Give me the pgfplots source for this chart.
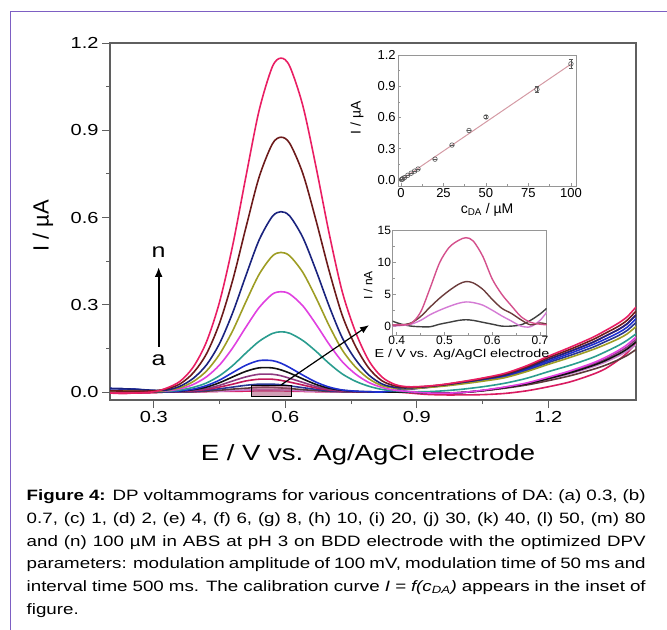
\documentclass[border=0pt]{standalone}
\usepackage{fontspec}
\setmainfont{Liberation Sans}[FakeStretch=1.25]
\newfontfamily\plainsf{Liberation Sans}
\usepackage{pgfplots}
\pgfplotsset{compat=1.18}
\usepackage{pgfplotstable}
\usetikzlibrary{arrows.meta}

\definecolor{framepurple}{RGB}{125,95,195}
\definecolor{axgray}{RGB}{95,95,95}
\definecolor{ingray}{RGB}{150,150,150}
\definecolor{cA}{HTML}{D81B60}
\definecolor{cB}{HTML}{C77DCC}
\definecolor{cC}{HTML}{5D3A3A}
\definecolor{cD}{HTML}{283593}
\definecolor{cE}{HTML}{C2185B}
\definecolor{cF}{HTML}{8E3A80}
\definecolor{cG}{HTML}{111111}
\definecolor{cH}{HTML}{1F2FD0}
\definecolor{cI}{HTML}{2A9D8F}
\definecolor{cJ}{HTML}{E040E0}
\definecolor{cK}{HTML}{9E9D24}
\definecolor{cL}{HTML}{1A237E}
\definecolor{cM}{HTML}{6D1B1B}
\definecolor{cN}{HTML}{E91E63}
\definecolor{zP}{HTML}{D4508C}
\definecolor{zQ}{HTML}{6B3B3B}
\definecolor{zR}{HTML}{D47AD4}
\definecolor{zS}{HTML}{404040}
\definecolor{fitpink}{HTML}{D49AA4}

% DPV curves (a)-(n), current in uA
\pgfplotstableread{
E     a     b     c     d     e     f     g     h     i     j     k     l     m     n
0.20 -.004  .004  .004  .012 -.004  .004  .004  .012  .004  .004  .004  .012  .004 -.004
0.25 -.004  .003  .003  .010 -.004  .003  .003  .010  .003  .003  .003  .010  .003 -.004
0.30 -.002  .001  .001  .004 -.002  .001  .001  .004  .002  .002  .002  .006  .004  .001
0.33  0     0     0     0     0     .001  .001  .001  .002  .004  .006  .007  .011  .014
0.36  0     0     .001  .001  .002  .002  .003  .004  .007  .011  .015  .020  .028  .037
0.39  0     .001  .001  .002  .004  .006  .008  .010  .016  .026  .036  .047  .066  .086
0.42  .001  .002  .003  .006  .009  .012  .017  .022  .031  .052  .072  .093  .131  .172
0.45  .002  .003  .006  .011  .017  .023  .032  .041  .056  .093  .130  .167  .237  .310
0.48  .002  .005  .010  .017  .027  .038  .052  .067  .091  .152  .211  .273  .385  .505
0.51  .003  .007  .013  .023  .038  .052  .071  .092  .134  .223  .310  .400  .565  .740
0.54  .004  .008  .016  .027  .044  .061  .083  .108  .174  .290  .404  .522  .738  .967
0.57  .004  .008  .016  .027  .044  .061  .083  .108  .201  .336  .467  .603  .852  1.117
0.59  .004  .007  .014  .025  .040  .056  .076  .099  .207  .345  .480  .620  .876  1.148
0.61  .003  .006  .012  .021  .034  .047  .065  .084  .202  .337  .468  .605  .855  1.120
0.64  .002  .004  .008  .015  .024  .033  .045  .058  .177  .296  .411  .531  .751  .984
0.67  .001  .002  .005  .009  .014  .019  .026  .034  .140  .233  .324  .418  .590  .774
0.70  .001  .001  .002  .004  .007  .010  .013  .017  .098  .164  .228  .295  .416  .545
0.73  0     .001  .001  .002  .003  .004  .006  .007  .062  .104  .144  .186  .263  .344
0.76  0     0     0     .001  .001  .001  .002  .003  .037  .062  .086  .112  .158  .207
0.79  0     0     0     0     0     0     .001  .001  .020  .033  .046  .059  .083  .109
0.82  0     0     0     0     0     0     0     0     .009  .016  .022  .028  .039  .052
0.85  0     0     0     .004  .005  0     0     .005  .004  .006  .013  .016  .021  .026
0.88 -.003  0     0     .009  .010  0     0     .010  .001  .002  .011  .014  .016  .018
0.92 -.008 -.003 -.003  .015  .017 -.003 -.003  .016  .001 -.003  .015  .018  .019  .020
0.96 -.010 -.004 -.003  .022  .024 -.004 -.004  .023  .004 -.004  .020  .024  .025  .026
1.00 -.010 -.002 -.002  .029  .032 -.002 -.002  .030  .009 -.002  .027  .032  .034  .035
1.05 -.009  .005  .004  .040  .044  .005  .005  .042  .018  .006  .037  .044  .046  .048
1.10 -.005  .014  .013  .052  .058  .016  .015  .055  .030  .017  .049  .058  .061  .064
1.15  .004  .027  .024  .074  .082  .029  .028  .078  .047  .031  .070  .082  .086  .090
1.20  .018  .044  .039  .101  .112  .048  .046  .106  .070  .051  .095  .112  .118  .123
1.25  .035  .063  .056  .126  .140  .069  .066  .133  .092  .073  .119  .140  .147  .154
1.30  .060  .086  .077  .153  .170  .095  .090  .162  .118  .099  .145  .170  .179  .187
1.33  .080  .103  .092  .173  .192  .113  .108  .182  .138  .119  .163  .192  .202  .211
1.36  .110  .124  .111  .194  .215  .137  .130  .204  .160  .143  .183  .215  .226  .237
1.38  .135  .141  .126  .212  .235  .155  .148  .223  .178  .163  .200  .235  .247  .259
1.40  .168  .163  .146  .239  .265  .181  .172  .252  .200  .189  .225  .265  .278  .292
}\dpv

% calibration points: c (uM), I (uA), error
\pgfplotstableread{
c     I      err
0.3   0.004  0
0.7   0.008  0
1     0.012  0
2     0.022  0
4     0.045  0
6     0.065  0
8     0.085  0
10    0.105  0
20    0.200  0
30    0.335  0
40    0.475  0
50    0.605  0.015
80    0.870  0.030
100   1.115  0.040
}\calib

% zoomed low-concentration curves, current in nA
\pgfplotstableread{
E      p     q     r     s
0.390  0.2   0.2   0.0   0.8
0.410  0.2   0.2   0.1   0.3
0.430  0.4   0.5   0.3   0.0
0.450  2.2   1.5   0.9  -0.1
0.470  6.0   3.0   1.8  -0.1
0.490  10.0  4.4   2.5   0.3
0.510  12.4  5.6   3.1   0.6
0.530  13.5  6.6   3.6   0.9
0.545  13.9  7.0   3.8   1.0
0.560  13.4  6.8   3.7   0.9
0.580  11.0  5.8   3.3   0.6
0.600  7.4   4.2   2.5   0.3
0.620  5.0   2.8   1.6   0.0
0.640  3.2   2.0   0.8   0.0
0.660  1.5   1.0   0.0   0.2
0.680  0.6   0.2  -0.1   0.9
0.700  0.3   0.5   0.9   1.9
0.714  0.2   0.3   2.2   2.8
}\lowc

\begin{document}
\begin{tikzpicture}
\useasboundingbox (0,0) rectangle (667bp,-630bp);
\draw[framepurple, line width=1.3bp] (10.7bp,-630bp) -- (10.7bp,-11.7bp) -- (667bp,-11.7bp);

\begin{axis}[
  at={(110bp,-400bp)}, anchor=south west,
  width=526bp, height=357bp, scale only axis,
  xmin=0.2, xmax=1.4, ymin=-0.0275, ymax=1.2,
  xtick={0.3,0.6,0.9,1.2}, ytick={0,0.3,0.6,0.9,1.2},
  minor x tick num=1, minor y tick num=1,
  tick pos=left, tick align=outside,
  major tick length=8bp, minor tick length=4bp,
  axis line style={draw=axgray, line width=1.2bp},
  tick style={draw=axgray, line width=1bp},
  tick label style={font=\fontsize{16bp}{16bp}\selectfont},
  xticklabel style={/pgf/number format/fixed, /pgf/number format/fixed zerofill,
    /pgf/number format/precision=1, /pgf/number format/assume math mode=true},
  yticklabel style={/pgf/number format/fixed, /pgf/number format/fixed zerofill,
    /pgf/number format/precision=1, /pgf/number format/assume math mode=true},
  every axis plot/.append style={line width=1.6bp, smooth},
]
\addplot[cA] table[x=E,y=a]{\dpv};
\addplot[cB] table[x=E,y=b]{\dpv};
\addplot[cC] table[x=E,y=c]{\dpv};
\addplot[cD] table[x=E,y=d]{\dpv};
\addplot[cE] table[x=E,y=e]{\dpv};
\addplot[cF] table[x=E,y=f]{\dpv};
\addplot[cG] table[x=E,y=g]{\dpv};
\addplot[cH] table[x=E,y=h]{\dpv};
\addplot[cI] table[x=E,y=i]{\dpv};
\addplot[cJ] table[x=E,y=j]{\dpv};
\addplot[cK] table[x=E,y=k]{\dpv};
\addplot[cL] table[x=E,y=l]{\dpv};
\addplot[cM] table[x=E,y=m]{\dpv};
\addplot[cN] table[x=E,y=n]{\dpv};

\draw[black, line width=0.8bp, fill={rgb,255:red,170;green,80;blue,120}, fill opacity=0.55]
  (axis cs:0.523,-0.014) rectangle (axis cs:0.613,0.024);
\draw[black, line width=1.2bp, -{Latex[length=9bp,width=7bp]}]
  (axis cs:0.59,0.024) -- (axis cs:0.791,0.23);
\draw[black, line width=2.2bp, -{Latex[length=10bp,width=8bp]}]
  (axis cs:0.311,0.155) -- (axis cs:0.311,0.43);
\node[font=\fontsize{20bp}{20bp}\selectfont] at (axis cs:0.311,0.48) {n};
\node[font=\fontsize{20bp}{20bp}\selectfont] at (axis cs:0.311,0.11) {a};
\end{axis}

% calibration inset
\begin{axis}[
  at={(398.3bp,-186bp)}, anchor=south west,
  width=178.4bp, height=131bp, scale only axis,
  xmin=-1.6, xmax=103.4, ymin=-0.058, ymax=1.2,
  xtick={0,25,50,75,100}, ytick={0,0.3,0.6,0.9,1.2},
  minor x tick num=1, minor y tick num=1,
  tick pos=left, tick align=inside,
  major tick length=3bp, minor tick length=1.8bp,
  axis line style={draw=ingray, line width=0.8bp},
  tick style={draw=ingray, line width=0.7bp},
  tick label style={font=\plainsf\fontsize{13bp}{13bp}\selectfont},
  xticklabel style={/pgf/number format/assume math mode=true, inner sep=2bp},
  yticklabel style={/pgf/number format/fixed, /pgf/number format/fixed zerofill,
    /pgf/number format/precision=1, /pgf/number format/assume math mode=true, inner sep=2.5bp},
]
\addplot[fitpink, line width=1bp] coordinates {(0.3,0.004) (100,1.112)};
\addplot[only marks, mark=o, mark size=2.3bp, draw=black!65, line width=0.6bp,
  error bars/.cd, y dir=both, y explicit,
  error bar style={black!65, line width=0.6bp}]
  table[x=c, y=I, y error=err]{\calib};
\end{axis}

% low-concentration inset
\begin{axis}[
  at={(392.7bp,-335bp)}, anchor=south west,
  width=154bp, height=104.3bp, scale only axis,
  xmin=0.3916, xmax=0.714, ymin=-1.4, ymax=15,
  xtick={0.4,0.5,0.6,0.7}, ytick={0,5,10,15},
  minor x tick num=1, minor y tick num=1,
  tick pos=left, tick align=inside,
  major tick length=3bp, minor tick length=1.8bp,
  axis line style={draw=ingray, line width=0.8bp},
  tick style={draw=ingray, line width=0.7bp},
  tick label style={font=\plainsf\fontsize{12bp}{12bp}\selectfont},
  xticklabel style={/pgf/number format/fixed, /pgf/number format/fixed zerofill,
    /pgf/number format/precision=1, /pgf/number format/assume math mode=true, inner sep=1bp},
  yticklabel style={/pgf/number format/assume math mode=true, inner sep=1.5bp},
  every axis plot/.append style={line width=1.4bp, smooth},
]
\addplot[zS] table[x=E,y=s]{\lowc};
\addplot[zR] table[x=E,y=r]{\lowc};
\addplot[zQ] table[x=E,y=q]{\lowc};
\addplot[zP] table[x=E,y=p]{\lowc};
\end{axis}

% axis titles
\node[rotate=90, font=\plainsf\fontsize{22bp}{22bp}\selectfont] at (43bp,-226bp) {I / µA};
\node[anchor=base, font=\fontsize{22bp}{22bp}\selectfont] at (368bp,-460.7bp) {E / V vs. Ag/AgCl electrode};
\node[rotate=90, font=\plainsf\fontsize{14bp}{14bp}\selectfont] at (357bp,-118bp) {I / µA};
\node[font=\plainsf\fontsize{14bp}{14bp}\selectfont] at (487bp,-210bp) {c\textsubscript{DA} / µM};
\node[rotate=90, font=\plainsf\fontsize{12bp}{12bp}\selectfont] at (368bp,-285bp) {I / nA};
\node[font=\fontsize{11.5bp}{11.5bp}\selectfont] at (462bp,-355bp) {E / V vs. Ag/AgCl electrode};

% caption
\node[anchor=base west, inner sep=0pt, text width=619bp, align=justify,
  font=\fontsize{15bp}{22.7bp}\selectfont] at (26.5bp,-500.7bp)
  {\hyphenpenalty=10000 \textbf{Figure 4:} DP voltammograms for various concentrations of DA: (a) 0.3, (b)\linebreak
  0.7, (c) 1, (d) 2, (e) 4, (f) 6, (g) 8, (h) 10, (i) 20, (j) 30, (k) 40, (l) 50, (m) 80\linebreak
  and (n) 100 µM in ABS at pH 3 on BDD electrode with the optimized DPV\linebreak
  parameters: modulation amplitude of 100 mV, modulation time of 50 ms and\linebreak
  interval time 500 ms. The calibration curve \textit{I = f(c\textsubscript{DA})} appears in the inset of\linebreak
  figure.};
\end{tikzpicture}
\end{document}
